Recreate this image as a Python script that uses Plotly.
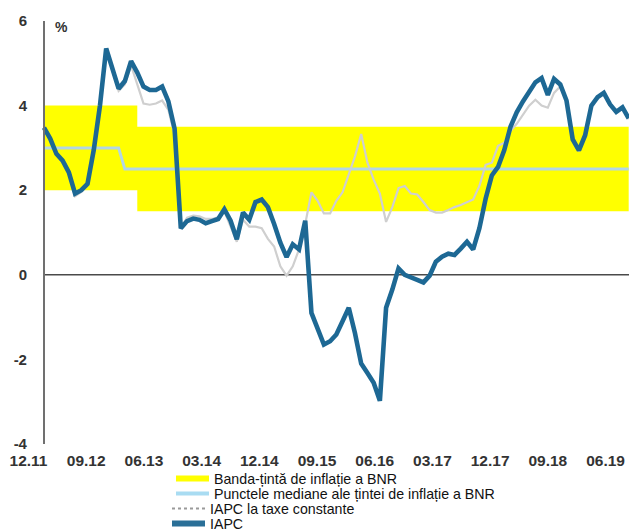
import plotly.graph_objects as go

# Monthly series, first point = 11.2011
iapc = [
    3.48, 3.22, 2.86, 2.70, 2.42, 1.92, 2.00, 2.15, 2.95, 4.00,
    5.35, 4.85, 4.40, 4.58, 5.05, 4.78, 4.45, 4.37, 4.37, 4.45,
    4.10, 3.45, 1.10, 1.27, 1.33, 1.30, 1.22, 1.27, 1.32, 1.55,
    1.28, 0.84, 1.47, 1.30, 1.72, 1.78, 1.60, 1.20, 0.76, 0.42,
    0.72, 0.60, 1.28, -0.90, -1.28, -1.65, -1.57, -1.41, -1.10, -0.78,
    -1.38, -2.10, -2.32, -2.55, -2.98, -0.78, -0.35, 0.15, 0.00, -0.05,
    -0.12, -0.18, -0.02, 0.31, 0.43, 0.50, 0.47, 0.62, 0.78, 0.60,
    1.10, 1.80, 2.35, 2.55, 2.95, 3.50, 3.84, 4.10, 4.35, 4.55,
    4.65, 4.25, 4.63, 4.50, 4.12, 3.20, 2.94, 3.30, 4.00, 4.20,
    4.30, 4.03, 3.85, 3.96, 3.70,
]

iapc_taxe_constante = [
    3.45, 3.20, 2.84, 2.66, 2.38, 1.86, 1.96, 2.12, 2.90, 3.95,
    5.30, 4.80, 4.35, 4.50, 4.95, 4.50, 4.05, 4.02, 4.05, 4.12,
    3.90, 3.30, 1.10, 1.35, 1.40, 1.38, 1.32, 1.32, 1.36, 1.50,
    1.15, 0.78, 1.30, 1.14, 1.14, 1.10, 0.85, 0.67, 0.20, -0.02,
    0.20, 0.60, 1.20, 1.95, 1.75, 1.45, 1.45, 1.75, 1.95, 2.40,
    2.80, 3.33, 2.65, 2.25, 1.92, 1.25, 1.60, 2.05, 2.10, 1.92,
    1.90, 1.72, 1.53, 1.47, 1.47, 1.53, 1.60, 1.65, 1.72, 1.78,
    2.10, 2.60, 2.65, 3.05, 3.12, 3.40, 3.57, 3.80, 4.00, 4.14,
    4.00, 3.95, 4.30, 4.45, 4.10, 3.18, 2.92, 3.28, 3.98, 4.18,
    4.28, 4.00, 3.83, 3.94, 3.68,
]

tinta_mediana = [
    3.0, 3.0, 3.0, 3.0, 3.0, 3.0, 3.0, 3.0, 3.0, 3.0,
    3.0, 3.0, 3.0, 2.5, 2.5, 2.5, 2.5, 2.5, 2.5, 2.5,
    2.5, 2.5, 2.5, 2.5, 2.5, 2.5, 2.5, 2.5, 2.5, 2.5,
    2.5, 2.5, 2.5, 2.5, 2.5, 2.5, 2.5, 2.5, 2.5, 2.5,
    2.5, 2.5, 2.5, 2.5, 2.5, 2.5, 2.5, 2.5, 2.5, 2.5,
    2.5, 2.5, 2.5, 2.5, 2.5, 2.5, 2.5, 2.5, 2.5, 2.5,
    2.5, 2.5, 2.5, 2.5, 2.5, 2.5, 2.5, 2.5, 2.5, 2.5,
    2.5, 2.5, 2.5, 2.5, 2.5, 2.5, 2.5, 2.5, 2.5, 2.5,
    2.5, 2.5, 2.5, 2.5, 2.5, 2.5, 2.5, 2.5, 2.5, 2.5,
    2.5, 2.5, 2.5, 2.5, 2.5,
]

banda_inf = [
    2.0, 2.0, 2.0, 2.0, 2.0, 2.0, 2.0, 2.0, 2.0, 2.0,
    2.0, 2.0, 2.0, 2.0, 2.0, 1.5, 1.5, 1.5, 1.5, 1.5,
    1.5, 1.5, 1.5, 1.5, 1.5, 1.5, 1.5, 1.5, 1.5, 1.5,
    1.5, 1.5, 1.5, 1.5, 1.5, 1.5, 1.5, 1.5, 1.5, 1.5,
    1.5, 1.5, 1.5, 1.5, 1.5, 1.5, 1.5, 1.5, 1.5, 1.5,
    1.5, 1.5, 1.5, 1.5, 1.5, 1.5, 1.5, 1.5, 1.5, 1.5,
    1.5, 1.5, 1.5, 1.5, 1.5, 1.5, 1.5, 1.5, 1.5, 1.5,
    1.5, 1.5, 1.5, 1.5, 1.5, 1.5, 1.5, 1.5, 1.5, 1.5,
    1.5, 1.5, 1.5, 1.5, 1.5, 1.5, 1.5, 1.5, 1.5, 1.5,
    1.5, 1.5, 1.5, 1.5, 1.5,
]

banda_sup = [
    4.0, 4.0, 4.0, 4.0, 4.0, 4.0, 4.0, 4.0, 4.0, 4.0,
    4.0, 4.0, 4.0, 4.0, 4.0, 3.5, 3.5, 3.5, 3.5, 3.5,
    3.5, 3.5, 3.5, 3.5, 3.5, 3.5, 3.5, 3.5, 3.5, 3.5,
    3.5, 3.5, 3.5, 3.5, 3.5, 3.5, 3.5, 3.5, 3.5, 3.5,
    3.5, 3.5, 3.5, 3.5, 3.5, 3.5, 3.5, 3.5, 3.5, 3.5,
    3.5, 3.5, 3.5, 3.5, 3.5, 3.5, 3.5, 3.5, 3.5, 3.5,
    3.5, 3.5, 3.5, 3.5, 3.5, 3.5, 3.5, 3.5, 3.5, 3.5,
    3.5, 3.5, 3.5, 3.5, 3.5, 3.5, 3.5, 3.5, 3.5, 3.5,
    3.5, 3.5, 3.5, 3.5, 3.5, 3.5, 3.5, 3.5, 3.5, 3.5,
    3.5, 3.5, 3.5, 3.5, 3.5,
]

tick_labels = ["12.11", "09.12", "06.13", "03.14", "12.14", "09.15",
               "06.16", "03.17", "12.17", "09.18", "06.19"]
y_ticks = [-4, -2, 0, 2, 4, 6]

legend_names = [
    "Banda-țintă de inflație a BNR",
    "Punctele mediane ale țintei de inflație a BNR",
    "IAPC la taxe constante",
    "IAPC",
]

months = list(range(len(iapc)))

# ---- styling ----
FONT = "Liberation Sans, Arial, sans-serif"
YELLOW = "#ffff00"
MEDIAN = "#b3d6e4"
GRAY = "#cfcfcf"
BLUE = "#1d6894"

W, H = 629, 531
ML, MR, MT, MB = 25, 0, 21, 87
x_left, x_right = -3.05, 94.05
tick_start, tick_step = -2.49, 9.277

fig = go.Figure()

fig.add_trace(go.Scatter(x=months, y=banda_inf, mode="lines", line=dict(width=0, shape="hv"),
                         showlegend=False, hoverinfo="skip", name="banda_inf"))
fig.add_trace(go.Scatter(x=months, y=banda_sup, mode="lines", line=dict(width=0, shape="hv"),
                         fill="tonexty", fillcolor=YELLOW, showlegend=False, name=legend_names[0]))
fig.add_trace(go.Scatter(x=months, y=tinta_mediana, mode="lines", line=dict(color=MEDIAN, width=3),
                         showlegend=False, name=legend_names[1]))
fig.add_trace(go.Scatter(x=months, y=iapc_taxe_constante, mode="lines", line=dict(color=GRAY, width=2.2),
                         showlegend=False, name=legend_names[2]))
fig.add_trace(go.Scatter(x=months, y=iapc, mode="lines", line=dict(color=BLUE, width=4.6),
                         showlegend=False, name=legend_names[3]))

# zero line starting at the value axis
fig.add_shape(type="line", xref="x", yref="y", x0=0, x1=x_right, y0=0, y1=0,
              line=dict(color="#4a4a4a", width=1.6), layer="below")

plot_w = W - ML - MR
plot_h = H - MT - MB


def px_to_paper_x(px):
    return (px - ML) / plot_w


def px_to_paper_y(py):
    return (H - MB - py) / plot_h


# legend block, centred below the axis
leg_rows = [478.5, 493.5, 508.5, 523.5]
leg_left = [176, 176, 172, 172]
leg_styles = [
    dict(color="#ffff00", width=6),
    dict(color="#a9dcf2", width=4),
    dict(color="#9a9a9a", width=2, dash="dot"),
    dict(color="#2a6f97", width=6),
]
for name, row, x0, style in zip(legend_names, leg_rows, leg_left, leg_styles):
    fig.add_shape(type="line", xref="paper", yref="paper",
                  x0=px_to_paper_x(x0), x1=px_to_paper_x(x0 + 33),
                  y0=px_to_paper_y(row), y1=px_to_paper_y(row), line=style)
    fig.add_annotation(text=name, xref="paper", yref="paper",
                       x=px_to_paper_x(x0 + 36), y=px_to_paper_y(row),
                       xanchor="left", yanchor="middle", showarrow=False,
                       font=dict(family=FONT, size=14.2, color="#111111"))

fig.add_annotation(text="%", xref="paper", yref="paper",
                   x=px_to_paper_x(61), y=px_to_paper_y(27),
                   xanchor="center", yanchor="middle", showarrow=False,
                   font=dict(family=FONT, size=14, color="#333333", weight="bold"))

fig.update_layout(
    width=W, height=H,
    margin=dict(l=ML, r=MR, t=MT, b=MB),
    paper_bgcolor="white", plot_bgcolor="white",
    showlegend=False,
    xaxis=dict(
        range=[x_left, x_right],
        tickmode="array",
        tickvals=[tick_start + tick_step * i for i in range(len(tick_labels))],
        ticktext=tick_labels,
        showgrid=False, zeroline=False, showline=False,
        ticks="outside", ticklen=2, tickcolor="rgba(0,0,0,0)",
        tickfont=dict(family=FONT, size=15.5, color="#333333", weight="bold"),
    ),
    yaxis=dict(
        range=[-4, 6],
        tickmode="array", tickvals=y_ticks, ticktext=[str(v) for v in y_ticks],
        showgrid=False, zeroline=False,
        showline=True, linecolor="#707070", linewidth=2,
        anchor="free", position=(0 - x_left) / (x_right - x_left),
        ticks="outside", ticklen=13, tickcolor="rgba(0,0,0,0)",
        tickfont=dict(family=FONT, size=15, color="#333333", weight="bold"),
    ),
)

fig.write_html("out.html")
